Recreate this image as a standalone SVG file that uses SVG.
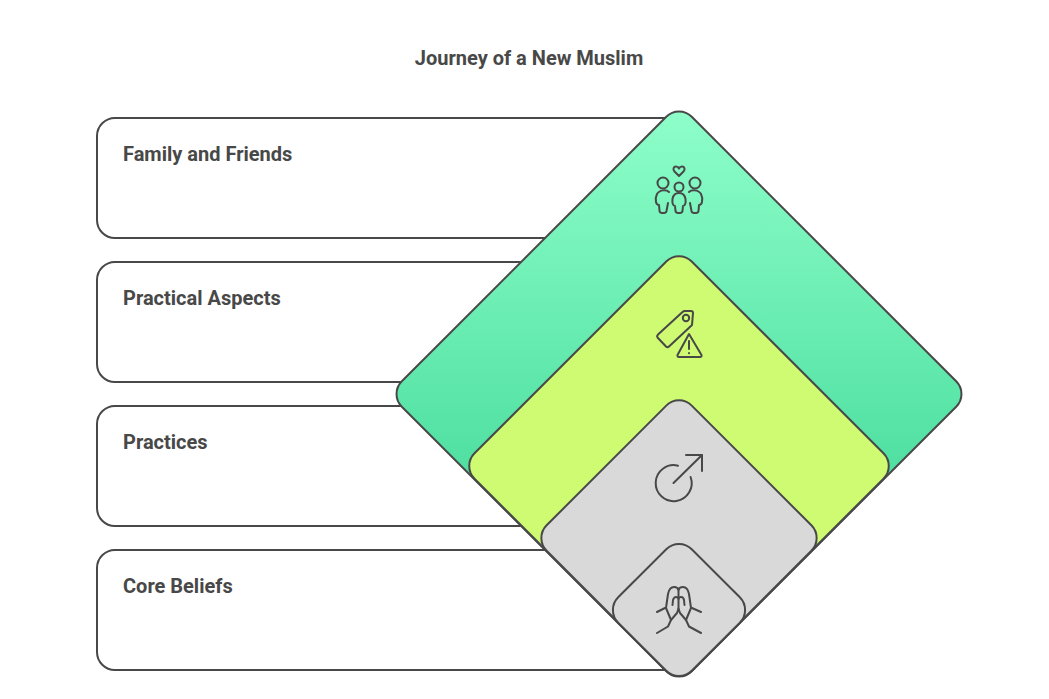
<svg xmlns="http://www.w3.org/2000/svg" width="1049" height="699" viewBox="0 0 1049 699">
<style>
.card{fill:#fff;stroke:#484848;stroke-width:2}
.dia{stroke:#484848;stroke-width:2}
.lbl{font-family:Roboto,"Liberation Sans",sans-serif;font-weight:700;font-size:20px;fill:#484848}
.ico{fill:none;stroke:#484848;stroke-width:2;stroke-linecap:round;stroke-linejoin:round}
</style>
<defs>
<linearGradient id="g" x1="0" y1="0" x2="1" y2="1">
<stop offset="0" stop-color="#8FFFCA"/><stop offset="0.65" stop-color="#4EDFA0"/>
</linearGradient>
</defs>
<rect width="1049" height="699" fill="#fff"/>
<text class="lbl" x="529" y="65" text-anchor="middle" id="title">Journey of a New Muslim</text>
<g id="card-family"><rect class="card" x="97" y="118" width="600" height="120" rx="18"/><text class="lbl" x="123" y="161">Family and Friends</text></g>
<g id="card-practical"><rect class="card" x="97" y="262" width="600" height="120" rx="18"/><text class="lbl" x="123" y="305">Practical Aspects</text></g>
<g id="card-practices"><rect class="card" x="97" y="406" width="600" height="120" rx="18"/><text class="lbl" x="123" y="449">Practices</text></g>
<g id="card-core"><rect class="card" x="97" y="550" width="600" height="120" rx="18"/><text class="lbl" x="123" y="593">Core Beliefs</text></g>
<g id="connectors"></g>
<g id="diamond-family">
<rect class="dia" fill="url(#g)" x="-205" y="-205" width="410" height="410" rx="18" transform="translate(679 394) rotate(45)"/>
<g class="ico">
<path d="M679 176 L674.500 171.500 C672.500 169.500 673.500 166.500 676 166.500 C677.500 166.500 678.500 167.300 679 168.500 C679.500 167.300 680.500 166.500 682 166.500 C684.500 166.500 685.500 169.500 683.500 171.500 Z"/>
<circle cx="663" cy="183" r="5.500"/><circle cx="679" cy="187" r="4.500"/><circle cx="695" cy="183" r="5.500"/>
<path d="M669 192 C667 190 660 189 657 194 C655.500 197 655.500 200 656 202 C656.500 204 658 205 659 205 L659.500 211 Q660 213 662 213 L664 213 Q666 213 666.500 211 L668 203"/>
<path d="M689 192 C691 190 698 189 701 194 C702.500 197 702.500 200 702 202 C701.500 204 700 205 699 205 L698.500 211 Q698 213 696 213 L694 213 Q692 213 691.500 211 L690 203"/>
<path d="M679 193 C675 193 673 196 672.500 199 C672 203 673 206 675 206 L675.500 211 Q676 213 678 213 L680 213 Q682 213 682.500 211 L683 206 C685 206 686 203 685.500 199 C685 196 683 193 679 193 Z"/>
</g>
</g>
<g id="diamond-practical">
<rect class="dia" fill="#CFFB72" x="-153.600" y="-153.600" width="307.200" height="307.200" rx="18" transform="translate(679 466) rotate(45)"/>
<g class="ico">
<path d="M685 311 L691 311 Q693 311 693 313 L692 325 L669 346.500 Q667.500 348 666 346.500 L657.500 337.500 Q656.500 336 658 334.500 L682.500 312 Q683.500 311 685 311 Z"/>
<circle cx="686" cy="318" r="3.200"/>
<path d="M689 334 L677.500 355 Q677 357 679 357 L700 357 Q702 357 701.500 355 Z"/>
<path d="M689 341 L689 349"/><path d="M689 353 L689 353.200"/>
</g>
</g>
<g id="diamond-practices">
<rect class="dia" fill="#D9D9D9" x="-102.600" y="-102.600" width="205.200" height="205.200" rx="18" transform="translate(679 538) rotate(45)"/>
<g class="ico">
<path d="M678 465.700 A18 18 0 1 0 690.600 477"/>
<path d="M673.500 483 L702 455"/><path d="M686 455 L702 455 L702 471"/>
</g>
</g>
<g id="diamond-core">
<rect class="dia" fill="#D9D9D9" x="-52" y="-52" width="104" height="104" rx="18" transform="translate(679 610) rotate(45)"/>
<g class="ico">
<path d="M657 633 L668 626.500 L671 620 L666 608 L668 594 C669 589 671 587 674 587 C676.500 587 678 588 678.500 590 C679 588 680.500 587 683 587 C686 587 688 589 689 594 L691 608 L686 620 L689 626.500 L701 633"/>
<path d="M671 620 L677 613 L678.500 608.500 L680 613 L686 620"/>
<path d="M678.500 590 L678.500 608.500"/>
<path d="M672.500 605 L673 600 Q674 597 676 597 Q678 597 678.500 599 Q679 597 681 597 Q683.500 597 684 600 L684.500 605"/>
<path d="M657 612 L665 608 L666 608"/><path d="M691 608 L692 608 L701 612"/>
</g>
</g>
</svg>
